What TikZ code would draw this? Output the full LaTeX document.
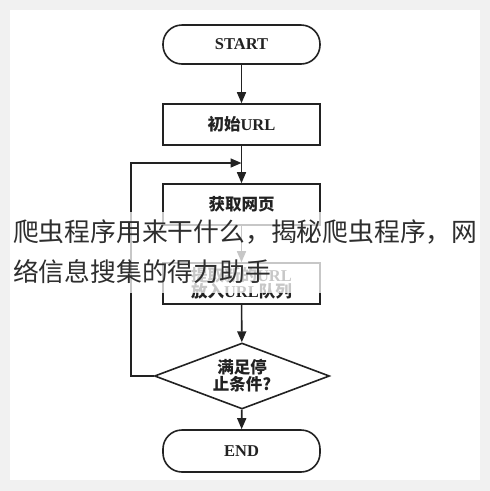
\documentclass[tikz,border=0pt]{standalone}
\usepackage{fontspec}
\setmainfont{Liberation Serif}
\newfontfamily\cjk{Noto Sans CJK SC}
\usetikzlibrary{shapes.geometric,arrows.meta}
\definecolor{ink}{HTML}{222222}
\definecolor{pagegray}{HTML}{F1F1F1}
\definecolor{overlaytext}{HTML}{2E2E2E}
\tikzset{
  flow/.style={draw=ink, line width=1.6pt, text=ink, inner sep=0pt,
    font=\fontsize{16.5}{18}\selectfont\bfseries, align=center},
  procbox/.style={flow, rectangle, minimum width=157pt, minimum height=41pt},
  termbox/.style={flow, rectangle, rounded corners=19pt, minimum width=157pt, minimum height=39pt},
  decbox/.style={flow, diamond, aspect=2.65, minimum width=175pt, minimum height=66pt},
  conn/.style={draw=ink, line width=1.6pt, -{Triangle[length=11pt,width=9pt]}},
}
\begin{document}
\begin{tikzpicture}[x=1pt,y=-1pt]
\useasboundingbox (0,0) rectangle (490,491);
\fill[pagegray] (0,0) rectangle (490,491);
\fill[white] (10,10) rectangle (480,480);

\node[termbox] (start) at (241.5,44.5) {START};
\node[procbox] (init) at (241.5,124.5) {{\cjk 初始}URL};
\node[procbox] (fetch) at (241.5,204.5) {\cjk 获取网页};
\node[procbox] (extract) at (241.5,283.5) {{\cjk 提取新的}URL\\[-2pt]{\cjk 放入}URL{\cjk 队列}};
\node[decbox] (cond) at (242,376) {\cjk 满足停\\[-1pt]\cjk 止条件?};
\node[termbox, minimum height=42pt] (endn) at (241.5,451) {END};

\coordinate (c1) at (131,376);
\coordinate (c2) at (131,163);
\coordinate (j) at (241.5,163);

\draw[conn] (start) -- (init);
\draw[conn] (init) -- (fetch);
\draw[conn] (fetch) -- (extract);
\draw[conn] (extract) -- (cond);
\draw[conn] (cond) -- (endn);
\draw[conn] (cond.west) -- (c1) -- (c2) -- (j);

\fill[white, opacity=0.75] (10,212) rectangle (480,293);
\node[anchor=north west, inner sep=0pt, align=left, text=overlaytext,
  font=\cjk\fontsize{25.8}{40}\selectfont] (title) at (13,219)
  {爬虫程序用来干什么，揭秘爬虫程序，网\\络信息搜集的得力助手};
\end{tikzpicture}
\end{document}
